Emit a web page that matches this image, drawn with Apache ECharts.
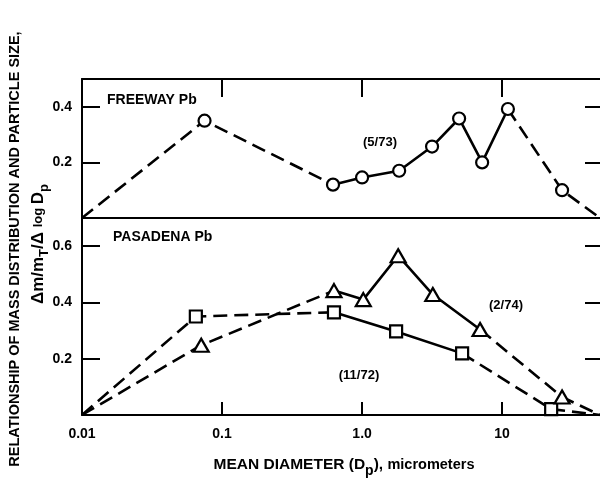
<!DOCTYPE html>
<html>
<head>
<meta charset="utf-8">
<script src="https://cdn.jsdelivr.net/npm/echarts@6/dist/echarts.min.js"></script>
<style>
  html, body { margin: 0; padding: 0; background: #fff; }
  #chart { width: 600px; height: 486px; }
</style>
</head>
<body>
<div id="chart"></div>
<script>
// ---- Data ----
// Top panel: FREEWAY Pb (5/73), circles
const freewayDiameter = [0.01, 0.075, 0.62, 1.0, 1.84, 3.16, 4.93, 7.2, 11.0, 26.8, 50];
const freewayMass     = [0, 0.35, 0.12, 0.146, 0.17, 0.257, 0.358, 0.2, 0.392, 0.1, 0];
const freewaySolidRange = [2, 8];

// Bottom panel: PASADENA Pb (2/74), triangles
const pasadena74Diameter = [0.01, 0.071, 0.63, 1.02, 1.81, 3.2, 6.96, 26.8, 50];
const pasadena74Mass     = [0, 0.248, 0.442, 0.41, 0.566, 0.428, 0.304, 0.064, 0];
const pasadena74SolidRange = [2, 6];

// Bottom panel: PASADENA Pb (11/72), squares
const pasadena72Diameter = [0.01, 0.065, 0.63, 1.75, 5.18, 22.4, 50];
const pasadena72Mass     = [0, 0.35, 0.365, 0.297, 0.219, 0.021, 0];
const pasadena72SolidRange = [2, 4];

// Tick labels
const xTickValues = [0.01, 0.1, 1, 10];
const xTickLabels = ['0.01', '0.1', '1.0', '10'];
const topYTickLabels = [0.2, 0.4];
const bottomYTickLabels = [0.2, 0.4, 0.6];

// ---- Chart ----
const chart = echarts.init(document.getElementById('chart'), null, { renderer: 'canvas' });
const FONT = '"Liberation Sans", Arial, Helvetica, sans-serif';
const DASH = [14, 7];
const LW = 2.6;

function curveSeries(xs, ys, solidRange, symbol, symbolSize, axisIdx) {
  const pts = xs.map((x, i) => [x, ys[i]]);
  const base = { type: 'line', xAxisIndex: axisIdx.x, yAxisIndex: axisIdx.y, showSymbol: false, silent: true, animation: false, z: 3 };
  return [
    Object.assign({}, base, { data: pts.slice(0, solidRange[0] + 1), lineStyle: { color: '#000', width: LW, type: DASH } }),
    Object.assign({}, base, { data: pts.slice(solidRange[0], solidRange[1] + 1), lineStyle: { color: '#000', width: LW, type: 'solid' } }),
    Object.assign({}, base, { data: pts.slice(solidRange[1]), lineStyle: { color: '#000', width: LW, type: DASH } }),
    {
      type: 'scatter', xAxisIndex: axisIdx.x, yAxisIndex: axisIdx.y, silent: true, animation: false, z: 5,
      data: pts.slice(1, -1), symbol: symbol, symbolSize: symbolSize,
      itemStyle: { color: '#fff', borderColor: '#000', borderWidth: 2.2, opacity: 1 }
    }
  ];
}

function xLabel(v) {
  const i = xTickValues.findIndex(t => Math.abs(Math.log10(t) - Math.log10(v)) < 1e-6);
  return i >= 0 ? xTickLabels[i] : '';
}
function yLabel(list) {
  return v => (list.some(t => Math.abs(t - v) < 1e-9) ? v.toFixed(1) : '');
}

const xMin = 0.01, xMax = 50;
const lineStyleAxis = { color: '#000', width: 2 };
const labelFont = { color: '#000', fontFamily: FONT, fontWeight: 'bold', fontSize: 14 };

const option = {
  animation: false,
  backgroundColor: '#fff',
  grid: [
    { left: 82, right: 0, top: 79, height: 139 },
    { left: 82, right: 0, top: 218, height: 197 }
  ],
  xAxis: [
    // 0: top panel bottom (divider)
    { gridIndex: 0, type: 'log', min: xMin, max: xMax, position: 'bottom',
      axisLine: { show: true, onZero: false, lineStyle: lineStyleAxis }, axisTick: { show: false }, axisLabel: { show: false }, splitLine: { show: false } },
    // 1: top panel top border
    { gridIndex: 0, type: 'log', min: xMin, max: xMax, position: 'top',
      axisLine: { show: true, onZero: false, lineStyle: lineStyleAxis },
      axisTick: { show: true, inside: true, length: 18, customValues: xTickValues, lineStyle: lineStyleAxis },
      axisLabel: { show: false }, splitLine: { show: false } },
    // 2: bottom panel x axis
    { gridIndex: 1, type: 'log', min: xMin, max: xMax, position: 'bottom',
      axisLine: { show: true, onZero: false, lineStyle: lineStyleAxis },
      axisTick: { show: true, inside: true, length: 13, customValues: xTickValues, lineStyle: lineStyleAxis },
      axisLabel: Object.assign({ show: true, margin: 12, customValues: xTickValues, formatter: xLabel }, labelFont),
      splitLine: { show: false } }
  ],
  yAxis: [
    { gridIndex: 0, type: 'value', min: 0, max: 0.5, interval: 0.2, position: 'left',
      axisLine: { show: true, onZero: false, lineStyle: lineStyleAxis }, axisTick: { show: true, inside: true, length: 18, lineStyle: lineStyleAxis },
      axisLabel: Object.assign({ show: true, margin: 10, formatter: yLabel(topYTickLabels) }, labelFont), splitLine: { show: false } },
    { gridIndex: 0, type: 'value', min: 0, max: 0.5, interval: 0.2, position: 'right',
      axisLine: { show: false, onZero: false }, axisTick: { show: true, inside: true, length: 15, lineStyle: lineStyleAxis },
      axisLabel: { show: false }, splitLine: { show: false } },
    { gridIndex: 1, type: 'value', min: 0, max: 0.7, interval: 0.2, position: 'left',
      axisLine: { show: true, onZero: false, lineStyle: lineStyleAxis }, axisTick: { show: true, inside: true, length: 18, lineStyle: lineStyleAxis },
      axisLabel: Object.assign({ show: true, margin: 10, formatter: yLabel(bottomYTickLabels) }, labelFont), splitLine: { show: false } },
    { gridIndex: 1, type: 'value', min: 0, max: 0.7, interval: 0.2, position: 'right',
      axisLine: { show: false, onZero: false }, axisTick: { show: true, inside: true, length: 15, lineStyle: lineStyleAxis },
      axisLabel: { show: false }, splitLine: { show: false } }
  ],
  series: [].concat(
    curveSeries(freewayDiameter, freewayMass, freewaySolidRange, 'circle', 12, { x: 0, y: 0 }),
    curveSeries(pasadena72Diameter, pasadena72Mass, pasadena72SolidRange, 'rect', 12, { x: 2, y: 2 }),
    curveSeries(pasadena74Diameter, pasadena74Mass, pasadena74SolidRange, 'triangle', [15, 13], { x: 2, y: 2 })
  ),
  graphic: [
    { type: 'text', x: 107, y: 100, silent: true,
      style: { text: 'FREEWAY Pb', font: 'bold 14px ' + FONT, fill: '#000', textAlign: 'left', textVerticalAlign: 'middle' } },
    { type: 'text', x: 113, y: 237, silent: true,
      style: { text: 'PASADENA Pb', font: 'bold 14px ' + FONT, fill: '#000', textAlign: 'left', textVerticalAlign: 'middle' } },
    { type: 'text', x: 380, y: 142, silent: true,
      style: { text: '(5/73)', font: 'bold 13px ' + FONT, fill: '#000', textAlign: 'center', textVerticalAlign: 'middle' } },
    { type: 'text', x: 506, y: 305, silent: true,
      style: { text: '(2/74)', font: 'bold 13px ' + FONT, fill: '#000', textAlign: 'center', textVerticalAlign: 'middle' } },
    { type: 'text', x: 359, y: 375, silent: true,
      style: { text: '(11/72)', font: 'bold 13px ' + FONT, fill: '#000', textAlign: 'center', textVerticalAlign: 'middle' } },
    // x axis title
    { type: 'text', x: 344, y: 465, silent: true,
      style: {
        text: '{a|MEAN DIAMETER (D}{s|p}{a|), }{b|micrometers}',
        textAlign: 'center', textVerticalAlign: 'middle', fill: '#000',
        rich: {
          a: { fontFamily: FONT, fontWeight: 'bold', fontSize: 15.5, fill: '#000' },
          b: { fontFamily: FONT, fontWeight: 'bold', fontSize: 14.5, fill: '#000' },
          s: { fontFamily: FONT, fontWeight: 'bold', fontSize: 14, fill: '#000', padding: [13, 0, 0, 0] }
        }
      } },
    // y axis title line 1
    { type: 'text', x: 15, y: 249, rotation: Math.PI / 2, silent: true,
      style: { text: 'RELATIONSHIP OF MASS DISTRIBUTION AND PARTICLE SIZE,', font: 'bold 14.5px ' + FONT, fill: '#000',
        textAlign: 'center', textVerticalAlign: 'middle' } },
    // y axis title line 2
    { type: 'text', x: 38, y: 244, rotation: Math.PI / 2, silent: true,
      style: {
        text: '{a|\u0394m/m}{s|T}{a|/\u0394 }{l|log }{a|D}{s|p}',
        textAlign: 'center', textVerticalAlign: 'middle', fill: '#000',
        rich: {
          a: { fontFamily: FONT, fontWeight: 'bold', fontSize: 17, fill: '#000' },
          l: { fontFamily: FONT, fontWeight: 'bold', fontSize: 13, fill: '#000' },
          s: { fontFamily: FONT, fontWeight: 'bold', fontSize: 13, fill: '#000', padding: [13, 0, 0, 0] }
        }
      } }
  ]
};
chart.setOption(option);
</script>
</body>
</html>
